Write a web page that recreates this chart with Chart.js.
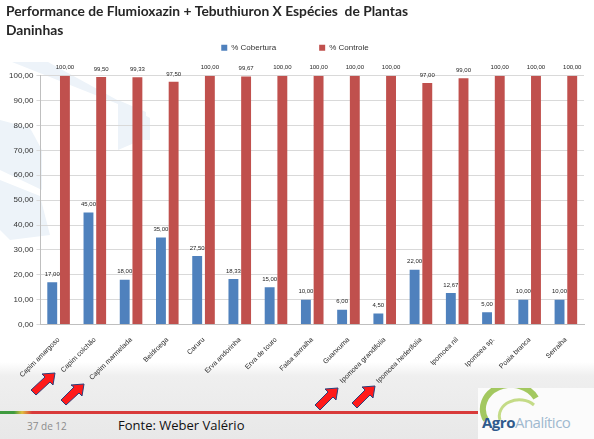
<!DOCTYPE html>
<html>
<head>
  <meta charset="utf-8">
  <title>Flumioxazin + Tebuthiuron X Espécies</title>
  <script src="https://cdn.jsdelivr.net/npm/chart.js"></script>
  <style>
    body {
      margin: 0;
      width: 594px;
      height: 439px;
      overflow: hidden;
      background: #fff;
      position: relative;
      font-family: "Liberation Sans", Arial, sans-serif;
    }
    .mark { position: absolute; left: 0; top: 0; }
    .band {
      position: absolute; left: 0; top: 362px; width: 594px; height: 77px;
      background: linear-gradient(to bottom, #ffffff 0px, #efefef 14px, #e8e8e8 100%);
    }
    .redline {
      position: absolute; left: 0; top: 411px; width: 482px; height: 3px;
      background: linear-gradient(to right, #3f9b3f 0px, #3f9b3f 14px, #e0c040 22px, #d83a3a 32px, #d83a3a 100%);
    }
    .page { position: absolute; left: 27px; top: 419px; font-size: 10px; color: #8c8c8c; font-family: "Open Sans", sans-serif; }
    .fonte { position: absolute; left: 118px; top: 416px; font-size: 13px; color: #111; font-family: "Open Sans", sans-serif; }
    .logo { position: absolute; left: 478px; top: 388px; width: 116px; height: 51px; background: #fbfbfb; }
    .logo span { position: absolute; left: 4px; top: 24px; font-size: 15px; font-family: "Open Sans", sans-serif; letter-spacing: -0.5px; }
    #wrap { position: absolute; left: 0; top: 0; }
  </style>
</head>
<body>
  <svg class="mark" width="594" height="439">
    <g fill="#edf3f9">
      <polygon points="12,62 48,62 150,118 150,140 118,140 118,104" />
      <polygon points="118,100 146,112 146,138 118,150" />
      <polygon points="0,120 30,128 42,150 42,190 0,170" />
      <polygon points="0,180 40,196 50,235 10,240 0,230" />
    </g>
  </svg>
  <div class="band"></div>
  <div class="redline"></div>
  <div class="page">37 de 12</div>
  <div class="fonte">Fonte: Weber Valério</div>
  <div class="logo">
    <svg width="116" height="51" style="position:absolute;left:0;top:0">
      <path d="M8,32 A28,24 0 0 1 58,10" stroke="#8dbb3a" stroke-width="6" fill="none" opacity="0.8" />
      <path d="M22,32 A20,16 0 0 1 56,17" stroke="#b6d36a" stroke-width="3" fill="none" opacity="0.8" />
    </svg>
    <span><span style="position:static;color:#2f5a8c;font-weight:bold">Agro</span><span style="position:static;color:#9fb9cf">Analítico</span></span>
  </div>
  <svg class="mark" width="594" height="439">
    <g fill="#ff1a1a" stroke="#2a3f7a" stroke-width="1">
      <polygon points="55,373 53,385 50,382 36,395 31,390 45,377 42,374" />
      <polygon points="84,384 82,396 79,393 66,405 61,400 74,387 71,385" />
      <polygon points="338,388 336,400 333,397 320,410 315,405 328,392 325,389" />
      <polygon points="375,386 373,398 370,395 357,408 352,403 365,390 362,387" />
    </g>
  </svg>
  <div id="wrap"><canvas id="myChart" width="594" height="439"></canvas></div>

  <script>
    const especies = ['Capim amargoso', 'Capim colchão', 'Capim marmelada', 'Beldroega', 'Caruru',
      'Erva andorinha', 'Erva de touro', 'Falsa serralha', 'Guanxuma', 'Ipomoea grandifolia',
      'Ipomoea hederifolia', 'Ipomoea nil', 'Ipomoea sp.', 'Poaia branca', 'Serralha'];
    const cobertura = [17.00, 45.00, 18.00, 35.00, 27.50, 18.33, 15.00, 10.00, 6.00, 4.50, 22.00, 12.67, 5.00, 10.00, 10.00];
    const controle = [100.00, 99.50, 99.33, 97.50, 100.00, 99.67, 100.00, 100.00, 100.00, 100.00, 97.00, 99.00, 100.00, 100.00, 100.00];
    const yTicks = [0, 10, 20, 30, 40, 50, 60, 70, 80, 90, 100];

    // numero com virgula, 2 casas
    function fmt(v) {
      return v.toFixed(2).replace('.', ',');
    }

    const barLabels = {
      id: 'barLabels',
      afterDatasetsDraw(chart) {
        const ctx = chart.ctx;
        ctx.save();
        ctx.font = '6px "Liberation Sans"';
        ctx.fillStyle = '#262626';
        ctx.textAlign = 'center';
        ctx.textBaseline = 'bottom';
        chart.data.datasets.forEach((ds, i) => {
          chart.getDatasetMeta(i).data.forEach((bar, j) => {
            ctx.fillText(fmt(ds.data[j]), bar.x, bar.y - 5);
          });
        });
        ctx.restore();
      }
    };

    // espaco extra abaixo da legenda
    const legendGap = {
      id: 'legendGap',
      beforeInit(chart) {
        const fit = chart.legend.fit;
        chart.legend.fit = function () {
          fit.bind(chart.legend)();
          this.height += 14;
        };
      }
    };

    const ctx = document.getElementById('myChart').getContext('2d');
    const myChart = new Chart(ctx, {
      type: 'bar',
      data: {
        labels: especies,
        datasets: [
          { label: '% Cobertura', data: cobertura, backgroundColor: '#4f81bd', categoryPercentage: 0.7, barPercentage: 0.78 },
          { label: '% Controle', data: controle, backgroundColor: '#c0504d', categoryPercentage: 0.7, barPercentage: 0.78 }
        ]
      },
      options: {
        responsive: false,
        animation: false,
        layout: { padding: { left: 6, right: 10, top: 0, bottom: 51 } },
        plugins: {
          title: {
            display: true,
            text: ['Performance de Flumioxazin + Tebuthiuron X Espécies  de Plantas', 'Daninhas'],
            align: 'start',
            color: '#262626',
            font: { family: 'Lato', size: 13.8, weight: 'bold', lineHeight: 1.4 },
            padding: { top: 2, bottom: 0 }
          },
          legend: {
            labels: {
              boxWidth: 6,
              boxHeight: 6,
              padding: 3,
              color: '#333',
              font: { family: 'Liberation Sans', size: 8 },
              generateLabels(chart) {
                const items = Chart.defaults.plugins.legend.labels.generateLabels(chart);
                items[0].text = items[0].text + '\u2003\u2003\u2003\u2003\u2003';
                return items;
              }
            }
          },
          tooltip: { enabled: false }
        },
        scales: {
          x: {
            grid: { display: false },
            border: { color: '#bfbfbf' },
            ticks: {
              autoSkip: false,
              minRotation: 45,
              maxRotation: 45,
              color: '#262626',
              font: { family: 'Liberation Sans', size: 7 }
            }
          },
          y: {
            min: 0,
            max: 100,
            afterBuildTicks(axis) {
              axis.ticks = yTicks.map(v => ({ value: v }));
            },
            grid: { color: '#d9d9d9', tickLength: 4 },
            border: { color: '#bfbfbf' },
            ticks: {
              color: '#333',
              font: { family: 'Liberation Sans', size: 8 },
              callback: v => fmt(v)
            }
          }
        }
      },
      plugins: [barLabels, legendGap]
    });
  </script>
</body>
</html>
